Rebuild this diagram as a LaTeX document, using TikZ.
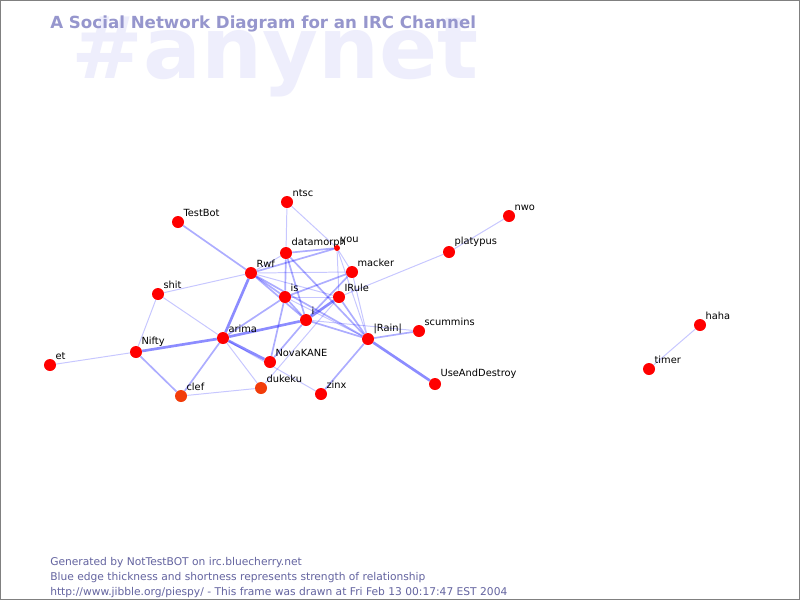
\documentclass[tikz,border=0pt]{standalone}
\usepackage{fontspec}
\setmainfont{DejaVu Sans}
\usetikzlibrary{backgrounds}
\definecolor{nickred}{RGB}{255,0,0}
\definecolor{nickorange}{RGB}{242,60,10}
\definecolor{titleblue}{RGB}{150,150,205}
\definecolor{markblue}{RGB}{238,238,252}
\definecolor{footblue}{RGB}{100,100,160}
\tikzset{
	nick/.style={circle,fill=nickred,inner sep=0pt,minimum size=0.3cm,label={[nicklabel]45:#1}},
	nicklabel/.style={font=\fontsize{7}{8}\selectfont,inner sep=0.6pt},
	weak/.style={draw=blue,opacity=0.22,line width=0.7pt},
	mid/.style={draw=blue,opacity=0.32,line width=1.2pt},
	strong/.style={draw=blue,opacity=0.45,line width=1.9pt},
}
\begin{document}
\begin{tikzpicture}[x=0.025cm,y=-0.025cm]
	\useasboundingbox (0,0) rectangle (800,600);
	\node[anchor=base west,inner sep=0pt,text=titleblue,font=\bfseries\fontsize{11.85}{13}\selectfont] (title) at (50,28) {A Social Network Diagram for an IRC Channel};
	\node[nick=ntsc] at (287,202) (ntsc) {};
	\node[nick=TestBot] at (178,222) (TestBot) {};
	\node[nick=datamorph] at (286,253) (datamorph) {};
	\node[nick=you,minimum size=0.15cm] at (337,248) (you) {};
	\node[nick=Rwf] at (251,273) (Rwf) {};
	\node[nick=macker] at (352,272) (macker) {};
	\node[nick=shit] at (158,294) (shit) {};
	\node[nick=is] at (285,297) (is) {};
	\node[nick=IRule] at (339,297) (IRule) {};
	\node[nick=i] at (306,320) (i) {};
	\node[nick=arima] at (223,338) (arima) {};
	\node[nick=Nifty] at (136,352) (Nifty) {};
	\node[nick=et] at (50,365) (et) {};
	\node[nick=NovaKANE] at (270,362) (NovaKANE) {};
	\node[nick={|Rain|}] at (368,339) (Rain) {};
	\node[nick=scummins] at (419,331) (scummins) {};
	\node[nick=dukeku,fill=nickorange] at (261,388) (dukeku) {};
	\node[nick=clef,fill=nickorange] at (181,396) (clef) {};
	\node[nick=zinx] at (321,394) (zinx) {};
	\node[nick=UseAndDestroy] at (435,384) (UseAndDestroy) {};
	\node[nick=platypus] at (449,252) (platypus) {};
	\node[nick=nwo] at (509,216) (nwo) {};
	\node[nick=haha] at (700,325) (haha) {};
	\node[nick=timer] at (649,369) (timer) {};
	\begin{scope}[on background layer]
	\fill[white] (0,0) rectangle (800,600);
	\draw[gray,line width=0.7pt] (0.5,0.5) rectangle (799.5,599.5);
	\node[anchor=base west,inner sep=0pt,text=markblue,font=\bfseries\fontsize{61}{61}\selectfont] (mark) at (71,78) {\#anynet};
	\draw[weak] (ntsc) -- (you);
	\draw[weak] (ntsc) -- (datamorph);
	\draw[mid] (TestBot) -- (Rwf);
	\draw[mid] (datamorph) -- (you);
	\draw[mid] (Rwf) -- (you);
	\draw[weak] (Rwf) -- (datamorph);
	\draw[mid] (datamorph) -- (is);
	\draw[mid] (datamorph) -- (i);
	\draw[mid] (datamorph) -- (Rain);
	\draw[weak] (Rwf) -- (macker);
	\draw[weak] (Rwf) -- (IRule);
	\draw[mid] (Rwf) -- (is);
	\draw[mid] (Rwf) -- (i);
	\draw[mid] (Rwf) -- (Rain);
	\draw[weak] (Rwf) -- (shit);
	\draw[strong] (Rwf) -- (arima);
	\draw[mid] (macker) -- (is);
	\draw[mid] (macker) -- (i);
	\draw[weak] (macker) -- (you);
	\draw[weak] (macker) -- (Rain);
	\draw[weak] (you) -- (Rain);
	\draw[weak] (you) -- (IRule);
	\draw[weak] (is) -- (IRule);
	\draw[mid] (is) -- (i);
	\draw[mid] (is) -- (arima);
	\draw[mid] (is) -- (NovaKANE);
	\draw[weak] (is) -- (Rain);
	\draw[strong] (IRule) -- (i);
	\draw[mid] (IRule) -- (Rain);
	\draw[weak] (IRule) -- (platypus);
	\draw[weak] (IRule) -- (dukeku);
	\draw[mid] (i) -- (NovaKANE);
	\draw[mid] (i) -- (Rain);
	\draw[weak] (i) -- (scummins);
	\draw[strong] (arima) -- (Nifty);
	\draw[strong] (arima) -- (i);
	\draw[weak] (arima) -- (shit);
	\draw[mid] (arima) -- (clef);
	\draw[weak] (arima) -- (dukeku);
	\draw[strong] (arima) -- (NovaKANE);
	\draw[weak] (arima) -- (zinx);
	\draw[weak] (Nifty) -- (et);
	\draw[weak] (Nifty) -- (shit);
	\draw[mid] (Nifty) -- (clef);
	\draw[weak] (clef) -- (dukeku);
	\draw[mid] (Rain) -- (zinx);
	\draw[strong] (Rain) -- (UseAndDestroy);
	\draw[mid] (Rain) -- (scummins);
	\draw[weak] (platypus) -- (nwo);
	\draw[weak] (haha) -- (timer);
	\end{scope}
	\node[anchor=base west,inner sep=0pt,text=footblue,font=\fontsize{7.6}{9}\selectfont] (gen) at (50,565) {Generated by NotTestBOT on irc.bluecherry.net};
	\node[anchor=base west,inner sep=0pt,text=footblue,font=\fontsize{7.6}{9}\selectfont] (blurb) at (50,580) {Blue edge thickness and shortness represents strength of relationship};
	\node[anchor=base west,inner sep=0pt,text=footblue,font=\fontsize{7.6}{9}\selectfont] (stamp) at (50,595) {http://www.jibble.org/piespy/ - This frame was drawn at Fri Feb 13 00:17:47 EST 2004};
\end{tikzpicture}
\end{document}
